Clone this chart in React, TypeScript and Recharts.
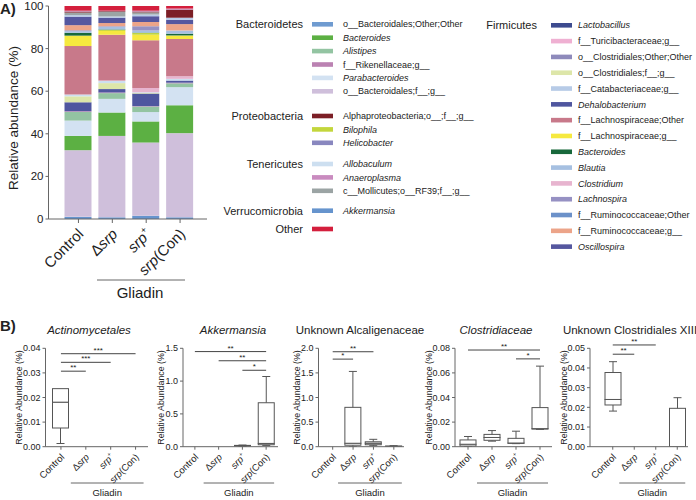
import React from 'react';
import { BarChart, Bar, XAxis, YAxis, ComposedChart, ReferenceLine } from 'recharts';

const FONT = '"Liberation Sans", Arial, Helvetica, sans-serif';
const INK = '#222';
const AXIS = '#666';

// ---------- Panel A: stacked relative abundance ----------
const GROUPS = ['Control', 'dsrp', 'srp', 'srpCon'];

// stacking order, bottom to top
const TAXA = [
  { id: 'akk', label: 'Akkermansia', color: '#6694cd', italic: true },
  { id: 'bacFG', label: 'o__Bacteroidales;f__;g__', color: '#cfbfdb' },
  { id: 'bacteroides', label: 'Bacteroides', color: '#5cb043', italic: true },
  { id: 'parab', label: 'Parabacteroides', color: '#d3e2f2', italic: true },
  { id: 'alist', label: 'Alistipes', color: '#93c4a2', italic: true },
  { id: 'riken', label: 'f__Rikenellaceae;g__', color: '#bb82b2' },
  { id: 'bacOO', label: 'o__Bacteroidales;Other;Other', color: '#6f9bd0' },
  { id: 'dehalo', label: 'Dehalobacterium', color: '#4f569f', italic: true },
  { id: 'clFG', label: 'o__Clostridiales;f__;g__', color: '#dde6a9' },
  { id: 'allob', label: 'Allobaculum', color: '#cddff0', italic: true },
  { id: 'turici', label: 'f__Turicibacteraceae;g__', color: '#efb0d2' },
  { id: 'clost', label: 'Clostridium', color: '#e7b4cf', italic: true },
  { id: 'clOO', label: 'o__Clostridiales;Other;Other', color: '#8e8abb' },
  { id: 'lachO', label: 'f__Lachnospiraceae;Other', color: '#c8798a' },
  { id: 'lachG', label: 'f__Lachnospiraceae;g__', color: '#f6e93f' },
  { id: 'biloph', label: 'Bilophila', color: '#c3d63c', italic: true },
  { id: 'bactF', label: 'Bacteroides', color: '#17683b', italic: true },
  { id: 'blautia', label: 'Blautia', color: '#a6c0e1', italic: true },
  { id: 'lachno', label: 'Lachnospira', color: '#9691c3', italic: true },
  { id: 'helico', label: 'Helicobacter', color: '#8987bf', italic: true },
  { id: 'ruminG', label: 'f__Ruminococcaceae;g__', color: '#eca489' },
  { id: 'ruminO', label: 'f__Ruminococcaceae;Other', color: '#6c91c9' },
  { id: 'lacto', label: 'Lactobacillus', color: '#3d4b8f', italic: true },
  { id: 'oscil', label: 'Oscillospira', color: '#55579f', italic: true },
  { id: 'catab', label: 'f__Catabacteriaceae;g__', color: '#b7cbe7' },
  { id: 'molli', label: 'c__Mollicutes;o__RF39;f__;g__', color: '#9ba4a4' },
  { id: 'alpha', label: 'Alphaproteobacteria;o__;f__;g__', color: '#7c1f26' },
  { id: 'anaero', label: 'Anaeroplasma', color: '#c98bbf', italic: true },
  { id: 'other', label: '', color: '#d41f3d' },
];

// % per taxon, same order as TAXA
const controlPct = [1, 31.3, 6.7, 7.2, 4.1, 0.3, 0, 4.2, 2.8, 0.8, 0, 0, 0, 22.8, 4.7, 0.2, 1.3, 0.8, 0.4, 0, 2.4, 0, 0, 4, 0.7, 1.2, 0.5, 0.4, 2.2];
const dsrpPct = [0.8, 38.2, 11, 6.4, 2.7, 0.3, 0, 1.6, 2.8, 1.0, 0, 0.2, 0, 21.5, 1.8, 0.5, 0.2, 1.2, 0.3, 0, 1.5, 0, 0, 2.5, 0.6, 2.2, 0.3, 0.2, 2.2];
const srpPct = [1.5, 34.4, 9.9, 4.4, 2.6, 0.2, 0, 5.9, 0.3, 0.3, 0, 2, 0, 22.4, 2.6, 0.8, 0.2, 1, 2, 0, 2, 0, 0, 2.7, 0.8, 1, 0.4, 0.4, 2.2];
const srpConPct = [0.8, 39.5, 13.1, 8.5, 1.8, 0.3, 0, 1, 0, 0.8, 0, 1.2, 0, 17.5, 1.5, 0.2, 0.8, 1.5, 0, 0, 3, 0, 0, 2, 1, 0, 3.8, 0.5, 1.2];

const LEGEND_LEFT = [
  { phylum: 'Bacteroidetes', ids: ['bacOO', 'bacteroides', 'alist', 'riken', 'parab', 'bacFG'] },
  { phylum: 'Proteobacteria', ids: ['alpha', 'biloph', 'helico'] },
  { phylum: 'Tenericutes', ids: ['allob', 'anaero', 'molli'] },
  { phylum: 'Verrucomicrobia', ids: ['akk'] },
  { phylum: 'Other', ids: ['other'] },
];
const LEFT_GROUP_Y = [24.3, 116, 164, 210.7, 229];
const LEGEND_RIGHT = ['lacto', 'turici', 'clOO', 'clFG', 'catab', 'dehalo', 'lachO', 'lachG', 'bactF', 'blautia', 'clost', 'lachno', 'ruminO', 'ruminG', 'oscil'];

const abundanceRows = [controlPct, dsrpPct, srpPct, srpConPct].map((vals, i) => {
  const row: Record<string, any> = { name: GROUPS[i] };
  TAXA.forEach((t, j) => { row[t.id] = vals[j]; });
  return row;
});

// ---------- Panel B: box plots [min, q1, median, q3, max] ----------
const actinoBox = [[0.0013, 0.0076, 0.0181, 0.0236, 0.0236], [0, 0, 0, 0, 0], [0, 0, 0, 0, 0], [0, 0, 0, 0, 0]];
const akkBox = [[0, 0, 0, 0, 0], [0, 0, 0, 0, 0], [0.005, 0.01, 0.015, 0.02, 0.025], [0.02, 0.03, 0.05, 0.67, 1.07]];
const alcaliBox = [[0, 0, 0, 0, 0], [0, 0.03, 0.07, 0.8, 1.53], [0.02, 0.04, 0.07, 0.1, 0.15], [0.005, 0.008, 0.01, 0.012, 0.02]];
const clostBox = [[0, 0.0005, 0.002, 0.0055, 0.0083], [0.0045, 0.0052, 0.0075, 0.01, 0.0131], [0.0025, 0.0027, 0.003, 0.0068, 0.0126], [0.014, 0.0143, 0.0147, 0.0318, 0.0655]];
const clXIIIBox = [[0.0181, 0.0212, 0.024, 0.0377, 0.0432], [0, 0, 0, 0, 0], [0, 0, 0, 0, 0], [0, 0, 0, 0.0195, 0.0249]];

// significance bars: [from, to, y, stars]
const actinoSig = [['Control', 'srpCon', 0.0378, '***'], ['Control', 'srp', 0.0343, '***'], ['Control', 'dsrp', 0.0307, '**']];
const akkSig = [['Control', 'srpCon', 1.45, '**'], ['dsrp', 'srpCon', 1.31, '**'], ['srp', 'srpCon', 1.165, '*']];
const alcaliSig = [['Control', 'srp', 1.93, '**'], ['Control', 'dsrp', 1.78, '*']];
const clostSig = [['Control', 'srpCon', 0.0786, '**'], ['srp', 'srpCon', 0.0714, '*']];
const clXIIISig = [['Control', 'srp', 0.0517, '**'], ['Control', 'dsrp', 0.047, '**']];

const PANELS = [
  { title: 'Actinomycetales', italic: true, titleX: 89, left: 0, width: 152, axisX: 45.5, padLeft: 3, domain: [0, 0.04], ticks: [0, 0.01, 0.02, 0.03, 0.04], digits: 2, boxes: actinoBox, sig: actinoSig, yLabelDx: 27 },
  { title: 'Akkermansia', italic: true, titleX: 233, left: 150, width: 132, axisX: 183, padLeft: 0, domain: [0, 1.5], ticks: [0, 0.5, 1, 1.5], digits: 1, boxes: akkBox, sig: akkSig, yLabelDx: 22 },
  { title: 'Unknown Alcaligenaceae', italic: false, titleX: 360, left: 285, width: 123, axisX: 318.5, padLeft: 4, domain: [0, 2], ticks: [0, 0.5, 1, 1.5, 2], digits: 1, boxes: alcaliBox, sig: alcaliSig, yLabelDx: 22 },
  { title: 'Clostridiaceae', italic: true, titleX: 496, left: 420, width: 136, axisX: 455, padLeft: 1, domain: [0, 0.08], ticks: [0, 0.02, 0.04, 0.06, 0.08], digits: 2, boxes: clostBox, sig: clostSig, yLabelDx: 26 },
  { title: 'Unknown Clostridiales XIII', italic: false, titleX: 630, left: 556, width: 136, axisX: 590, padLeft: 12, domain: [0, 0.05], ticks: [0, 0.01, 0.02, 0.03, 0.04, 0.05], digits: 2, boxes: clXIIIBox, sig: clXIIISig, yLabelDx: 26 },
];

const B_TOP = 300;
const B_MARGIN_TOP = 48.3;
const B_PLOT_H = 98.4;

function groupLabel(id: string, fs: number) {
  if (id === 'Control') return 'Control';
  if (id === 'dsrp') return <>Δ<tspan fontStyle="italic">srp</tspan></>;
  if (id === 'srp') return <><tspan fontStyle="italic">srp</tspan><tspan dy={-fs * 0.45} fontSize={fs * 0.6}>+</tspan></>;
  return <><tspan fontStyle="italic">srp</tspan>(Con)</>;
}

const GroupTick = ({ x, y, payload, fs, ox, oy }: any) => (
  <g transform={`translate(${x},${y})`}>
    <text transform={`translate(${ox},${oy}) rotate(-45)`} textAnchor="end" fontSize={fs} fill={INK}>
      {groupLabel(payload.value, fs)}
    </text>
  </g>
);

const strokeBox = '#555';

const WhiskerLow = (p: any) => {
  const { x, y, width, height } = p;
  if (!height || Math.abs(height) < 0.01) return <g />;
  const top = Math.min(y, y + height), bot = Math.max(y, y + height);
  const cx = x + width / 2;
  return (
    <g stroke={strokeBox} strokeWidth={1}>
      <line x1={cx} x2={cx} y1={top} y2={bot} />
      <line x1={cx - width / 4} x2={cx + width / 4} y1={bot} y2={bot} />
    </g>
  );
};

const WhiskerHigh = (p: any) => {
  const { x, y, width, height } = p;
  if (!height || Math.abs(height) < 0.01) return <g />;
  const top = Math.min(y, y + height), bot = Math.max(y, y + height);
  const cx = x + width / 2;
  return (
    <g stroke={strokeBox} strokeWidth={1}>
      <line x1={cx} x2={cx} y1={top} y2={bot} />
      <line x1={cx - width / 4} x2={cx + width / 4} y1={top} y2={top} />
    </g>
  );
};

const BoxPart = (p: any) => {
  const { x, y, width, height } = p;
  if (!height || Math.abs(height) < 0.01) return <g />;
  const top = Math.min(y, y + height);
  return <rect x={x} y={top} width={width} height={Math.abs(height)} fill="#fff" stroke={strokeBox} strokeWidth={1} />;
};

function bandCenters(pn: any) {
  const start = pn.axisX + pn.padLeft;
  const end = pn.left + pn.width - 4;
  const band = (end - start) / GROUPS.length;
  return GROUPS.map((_, i) => start + band * (i + 0.5));
}

function BoxPanel({ pn }: { pn: any }) {
  const rows = GROUPS.map((g, i) => {
    const [mn, q1, md, q3, mx] = pn.boxes[i];
    return { name: g, base: mn, wLow: q1 - mn, boxLow: md - q1, boxHigh: q3 - md, wHigh: mx - q3 };
  });
  return (
    <div style={{ position: 'absolute', left: pn.left, top: B_TOP }}>
      <ComposedChart
        width={pn.width}
        height={200}
        data={rows}
        margin={{ top: B_MARGIN_TOP, right: 4, left: 0, bottom: 0 }}
        barCategoryGap={0}
      >
        <XAxis
          dataKey="name"
          interval={0}
          height={200 - B_MARGIN_TOP - B_PLOT_H}
          padding={{ left: pn.padLeft, right: 0 }}
          tickSize={3}
          axisLine={{ stroke: AXIS }}
          tickLine={{ stroke: AXIS }}
          tick={(p: any) => <GroupTick {...p} fs={9.5} ox={4} oy={6} />}
        />
        <YAxis
          type="number"
          domain={pn.domain}
          ticks={pn.ticks}
          allowDataOverflow
          width={pn.axisX - pn.left}
          tickSize={3}
          axisLine={{ stroke: AXIS }}
          tickLine={{ stroke: AXIS }}
          tick={{ fontSize: 9, fill: INK }}
          tickFormatter={(v: number) => v.toFixed(pn.digits)}
        />
        <Bar dataKey="base" stackId="b" fill="transparent" barSize={16} isAnimationActive={false} />
        <Bar dataKey="wLow" stackId="b" shape={WhiskerLow} barSize={16} isAnimationActive={false} />
        <Bar dataKey="boxLow" stackId="b" shape={BoxPart} barSize={16} isAnimationActive={false} />
        <Bar dataKey="boxHigh" stackId="b" shape={BoxPart} barSize={16} isAnimationActive={false} />
        <Bar dataKey="wHigh" stackId="b" shape={WhiskerHigh} barSize={16} isAnimationActive={false} />
        {pn.sig.map(([from, to, yv, stars]: any, i: number) => (
          <ReferenceLine
            key={i}
            segment={[{ x: from, y: yv }, { x: to, y: yv }]}
            stroke="#444"
            strokeWidth={1}
            ifOverflow="visible"
            label={{ value: stars, position: 'top', offset: 1, fontSize: 8, fill: INK }}
          />
        ))}
      </ComposedChart>
    </div>
  );
}

export default function App() {
  return (
    <div style={{ position: 'absolute', left: 0, top: 0, width: 696, height: 500, background: '#fff', fontFamily: FONT, color: INK }}>
      {/* A) stacked bars */}
      <div style={{ position: 'absolute', left: 0, top: 0 }}>
        <BarChart width={215} height={300} data={abundanceRows} margin={{ top: 6, right: 8, left: 0, bottom: 6 }}>
          <XAxis
            dataKey="name"
            interval={0}
            height={75}
            padding={{ left: 13, right: 10 }}
            tickSize={4}
            axisLine={{ stroke: AXIS }}
            tickLine={{ stroke: AXIS }}
            tick={(p: any) => <GroupTick {...p} fs={15} ox={6} oy={10} />}
          />
          <YAxis
            domain={[0, 100]}
            ticks={[0, 20, 40, 60, 80, 100]}
            width={48.5}
            tickSize={3}
            axisLine={{ stroke: AXIS }}
            tickLine={{ stroke: AXIS }}
            tick={{ fontSize: 11.5, fill: INK }}
          />
          {TAXA.map((t) => (
            <Bar key={t.id} dataKey={t.id} stackId="a" fill={t.color} barSize={27} isAnimationActive={false} />
          ))}
        </BarChart>
      </div>

      {PANELS.map((pn, i) => <BoxPanel key={i} pn={pn} />)}

      {/* text, legend and group brackets */}
      <svg width={696} height={500} style={{ position: 'absolute', left: 0, top: 0, pointerEvents: 'none' }} fontFamily={FONT}>
        <text x={0} y={14} fontSize={15} fontWeight="bold" fill={INK}>A)</text>
        <text x={0} y={331} fontSize={15} fontWeight="bold" fill={INK}>B)</text>
        <text transform="translate(13.5,118) rotate(-90)" textAnchor="middle" dy="0.35em" fontSize={13.5} fill={INK}>Relative abundance (%)</text>
        <line x1={97} x2={185} y1={280} y2={280} stroke={AXIS} />
        <text x={140} y={298} textAnchor="middle" fontSize={15} fill={INK}>Gliadin</text>

        {LEGEND_LEFT.map((g, gi) => (
          <g key={g.phylum}>
            <text x={303} y={LEFT_GROUP_Y[gi]} dy="0.35em" textAnchor="end" fontSize={11} fill={INK}>{g.phylum}</text>
            {g.ids.map((id, k) => {
              const t = TAXA.find((tx) => tx.id === id)!;
              const yy = LEFT_GROUP_Y[gi] + k * 13.4;
              return (
                <g key={id}>
                  <rect x={312} y={yy - 2.3} width={21} height={4.6} fill={t.color} />
                  <text x={343} y={yy} dy="0.35em" fontSize={9} fontStyle={t.italic ? 'italic' : 'normal'} fill={INK}>{t.label}</text>
                </g>
              );
            })}
          </g>
        ))}
        <text x={537} y={25.3} dy="0.35em" textAnchor="end" fontSize={11} fill={INK}>Firmicutes</text>
        {LEGEND_RIGHT.map((id, k) => {
          const t = TAXA.find((tx) => tx.id === id)!;
          const yy = 25.3 + k * 15.81;
          return (
            <g key={id}>
              <rect x={551} y={yy - 2.3} width={21} height={4.6} fill={t.color} />
              <text x={578} y={yy} dy="0.35em" fontSize={9} fontStyle={t.italic ? 'italic' : 'normal'} fill={INK}>{t.label}</text>
            </g>
          );
        })}

        {PANELS.map((pn, i) => {
          const c = bandCenters(pn);
          return (
            <g key={i}>
              <text x={pn.titleX} y={334} textAnchor="middle" fontSize={11.5} fontStyle={pn.italic ? 'italic' : 'normal'} fill={INK}>{pn.title}</text>
              <text transform={`translate(${pn.axisX - pn.yLabelDx},${B_TOP + B_MARGIN_TOP + B_PLOT_H / 2}) rotate(-90)`} textAnchor="middle" dy="0.35em" fontSize={8.8} fill={INK}>Relative Abundance (%)</text>
              <line x1={c[1] - 15} x2={c[3] + 8} y1={483} y2={483} stroke={AXIS} />
              <text x={(c[1] - 15 + c[3] + 8) / 2} y={496} textAnchor="middle" fontSize={9.5} fill={INK}>Gliadin</text>
            </g>
          );
        })}
      </svg>
    </div>
  );
}
